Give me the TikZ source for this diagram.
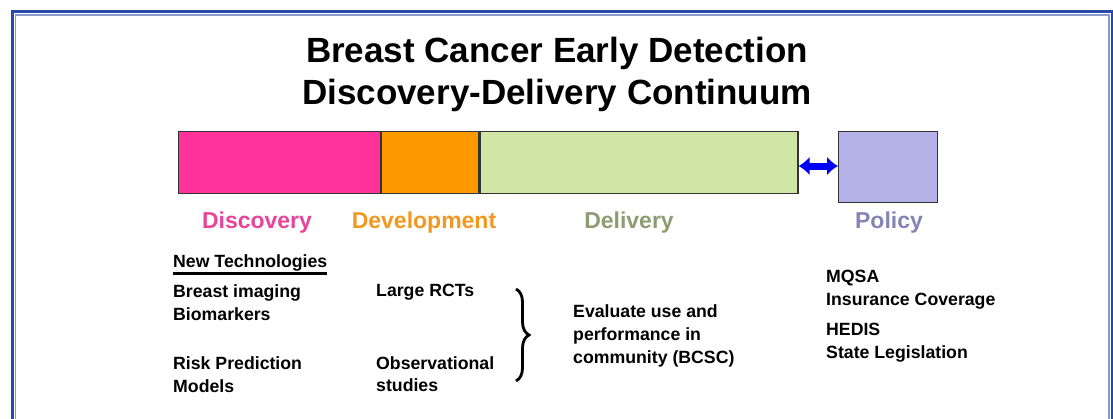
\documentclass[tikz,border=0pt]{standalone}
\usepackage{fontspec}
\setmainfont{Liberation Sans}
\usetikzlibrary{positioning,arrows.meta,decorations.pathreplacing}
\definecolor{discpink}{HTML}{FF3399}
\definecolor{devorange}{HTML}{FF9900}
\definecolor{delgreen}{HTML}{D1E6A6}
\definecolor{polviolet}{HTML}{B4B2E8}
\definecolor{disctext}{HTML}{E8449B}
\definecolor{devtext}{HTML}{F2971F}
\definecolor{deltext}{HTML}{8E9C72}
\definecolor{poltext}{HTML}{8585B5}
\definecolor{framedark}{HTML}{2A48A8}
\definecolor{framelight}{HTML}{8C9ACC}
\begin{document}
\begin{tikzpicture}[x=1pt, y=-1pt,
        every node/.style={font=\bfseries, inner sep=0pt},
        bar/.style={draw=black!80, line width=1.2pt, anchor=north west, minimum height=62pt},
        lbl/.style={anchor=base, font=\bfseries\fontsize{23}{28}\selectfont},
        txt/.style={anchor=base west, font=\bfseries\fontsize{17.7}{23}\selectfont}]
        \useasboundingbox (0,0) rectangle (1113,418);
        % Frame
        \begin{scope}
            \clip (0,0) rectangle (1113,418);
            \draw[framedark, line width=3pt] (12.5,11.5) rectangle (1112,440);
            \draw[framelight, line width=1.5pt] (15.5,15) rectangle (1109,440);
        \end{scope}

        % Title
        \node[anchor=base, font=\bfseries\fontsize{35}{42}\selectfont] (title1) at (557,62) {Breast Cancer Early Detection};
        \node[anchor=base, font=\bfseries\fontsize{35}{42}\selectfont] (title2) at (557,104) {Discovery-Delivery Continuum};

        % Bars of the continuum
        \node[bar, fill=discpink, minimum width=202pt] (disc) at (178,131) {};
        \node[bar, fill=devorange, minimum width=97pt] (devel) at (disc.north east) {};
        \node[bar, fill=delgreen, minimum width=318pt] (deliv) at (devel.north east) {};
        \node[bar, fill=polviolet, minimum width=99pt, minimum height=71pt] (policy) at (838,131) {};

        % Double arrow to policy
        \draw[blue, line width=7pt, {Latex[length=11pt,width=19pt]}-{Latex[length=11pt,width=19pt]}]
            (deliv.east |- 0,166) -- (policy.west |- 0,166);

        % Stage labels
        \node[lbl, disctext] (disclbl) at (257,228) {Discovery};
        \node[lbl, devtext] (devlbl) at (424,228) {Development};
        \node[lbl, deltext] (dellbl) at (629,228) {Delivery};
        \node[lbl, poltext] (pollbl) at (889,228) {Policy};

        % Discovery column
        \node[txt] (newtech) at (173,267) {New Technologies};
        \draw[line width=2.5pt] (173,273.5) -- (327,273.5);
        \node[txt] (imaging) at (173,297) {Breast imaging};
        \node[txt] (biomark) at (173,320) {Biomarkers};
        \node[txt] (risk) at (173,369) {Risk Prediction};
        \node[txt] (models) at (173,392) {Models};

        % Development column
        \node[txt] (rcts) at (376,296) {Large RCTs};
        \node[txt] (obs) at (376,369) {Observational};
        \node[txt] (studies) at (376,391) {studies};
        \draw[line width=2.8pt, decorate, decoration={brace, amplitude=13pt}] (516,289) -- (516,381);

        % Delivery column
        \node[txt] (eval) at (573,317) {Evaluate use and};
        \node[txt] (perf) at (573,340) {performance in};
        \node[txt] (comm) at (573,363) {community (BCSC)};

        % Policy column
        \node[txt] (mqsa) at (826,282) {MQSA};
        \node[txt] (insur) at (826,305) {Insurance Coverage};
        \node[txt] (hedis) at (826,335) {HEDIS};
        \node[txt] (state) at (826,358) {State Legislation};
    \end{tikzpicture}
\end{document}
